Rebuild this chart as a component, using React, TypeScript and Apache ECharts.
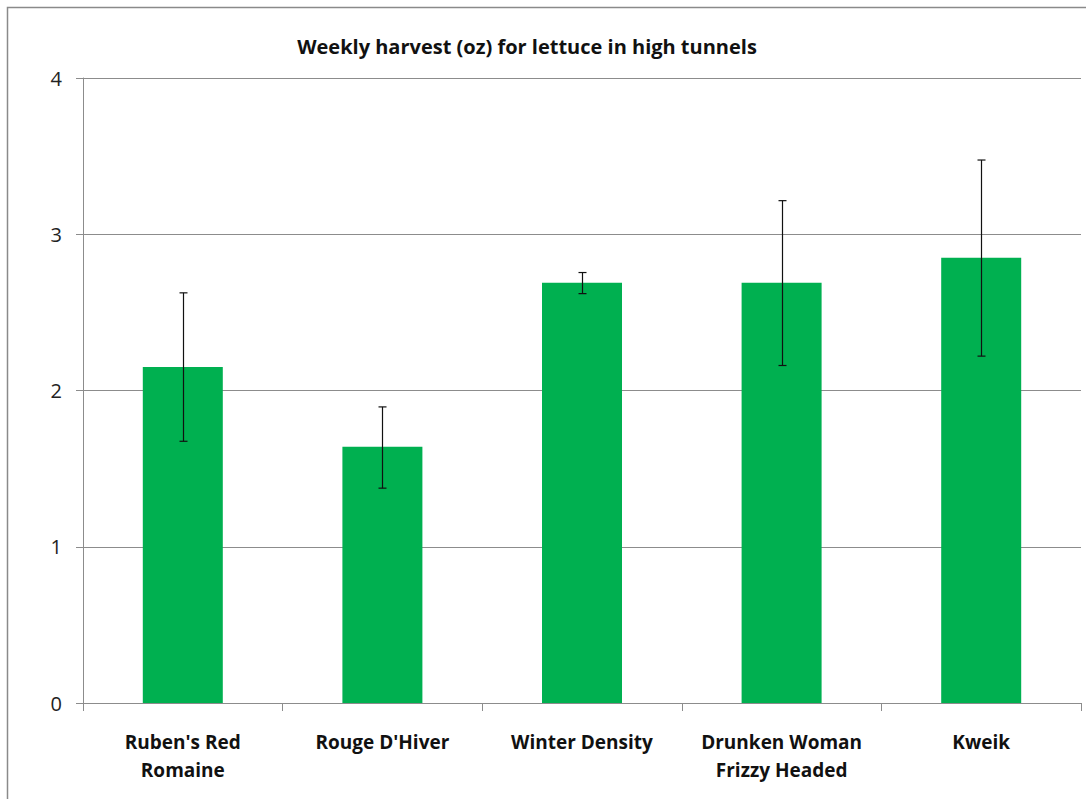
import React, { useEffect, useRef } from "react";
import * as echarts from "echarts";

const categories = ["Ruben's Red\nRomaine", "Rouge D'Hiver", "Winter Density", "Drunken Woman\nFrizzy Headed", "Kweik"];
const harvest = [2.15, 1.64, 2.69, 2.69, 2.85];
const errLow = [1.675, 1.375, 2.62, 2.16, 2.22];
const errHigh = [2.625, 1.895, 2.755, 3.215, 3.475];
const yTicks = [0, 1, 2, 3, 4];

export default function App() {
  const ref = useRef<HTMLDivElement>(null);
  useEffect(() => {
    if (!ref.current) return;
    const chart = echarts.init(ref.current, null, { renderer: "svg" });
    const font = "'Open Sans', Lato, sans-serif";
    chart.setOption({
      animation: false,
      backgroundColor: "#ffffff",
      title: {
        text: "Weekly harvest (oz) for lettuce in high tunnels",
        left: 522,
        top: 31,
        textAlign: "center",
        textStyle: { fontFamily: font, fontSize: 20, fontWeight: "bold", color: "#111111" },
      },
      graphic: [
        {
          type: "rect",
          shape: { x: 7.5, y: 7.5, width: 1200, height: 900 },
          style: { fill: "none", stroke: "#8a8a8a", lineWidth: 1.5 },
          silent: true,
        },
      ],
      grid: { left: 83, right: 5, top: 78, bottom: 96, containLabel: false },
      xAxis: {
        type: "category",
        data: categories,
        boundaryGap: true,
        axisLine: { show: true, lineStyle: { color: "#8c8c8c", width: 1 } },
        axisTick: { show: true, length: 8, alignWithLabel: false, lineStyle: { color: "#8c8c8c" } },
        axisLabel: {
          margin: 25,
          interval: 0,
          fontFamily: font,
          fontSize: 19,
          fontWeight: "bold",
          color: "#111111",
          lineHeight: 28,
          verticalAlign: "top",
        },
      },
      yAxis: {
        type: "value",
        min: yTicks[0],
        max: yTicks[yTicks.length - 1],
        interval: 1,
        axisLine: { show: true, lineStyle: { color: "#8c8c8c", width: 1 } },
        axisTick: { show: true, length: 7, lineStyle: { color: "#8c8c8c" } },
        splitLine: { show: true, lineStyle: { color: "#8c8c8c", width: 1 } },
        axisLabel: { margin: 21, fontFamily: font, fontSize: 20, color: "#222222" },
      },
      series: [
        {
          type: "bar",
          data: harvest,
          barWidth: 80,
          itemStyle: { color: "#00B050" },
          z: 2,
        },
        {
          type: "custom",
          z: 5,
          data: categories.map((_, i) => [i, errLow[i], errHigh[i]]),
          renderItem: (params: any, api: any) => {
            const i = api.value(0);
            const lo = api.coord([i, api.value(1)]);
            const hi = api.coord([i, api.value(2)]);
            const x = Math.round(lo[0]) + 0.5;
            const cap = 4;
            const style = { stroke: "#111111", lineWidth: 1.2 };
            return {
              type: "group",
              children: [
                { type: "line", shape: { x1: x, y1: hi[1], x2: x, y2: lo[1] }, style },
                { type: "line", shape: { x1: x - cap, y1: hi[1], x2: x + cap, y2: hi[1] }, style },
                { type: "line", shape: { x1: x - cap, y1: lo[1], x2: x + cap, y2: lo[1] }, style },
              ],
            };
          },
        },
      ],
    });
    return () => chart.dispose();
  }, []);
  return (
    <div
      ref={ref}
      style={{ position: "absolute", left: 0, top: 0, width: 1086, height: 799 }}
    />
  );
}
